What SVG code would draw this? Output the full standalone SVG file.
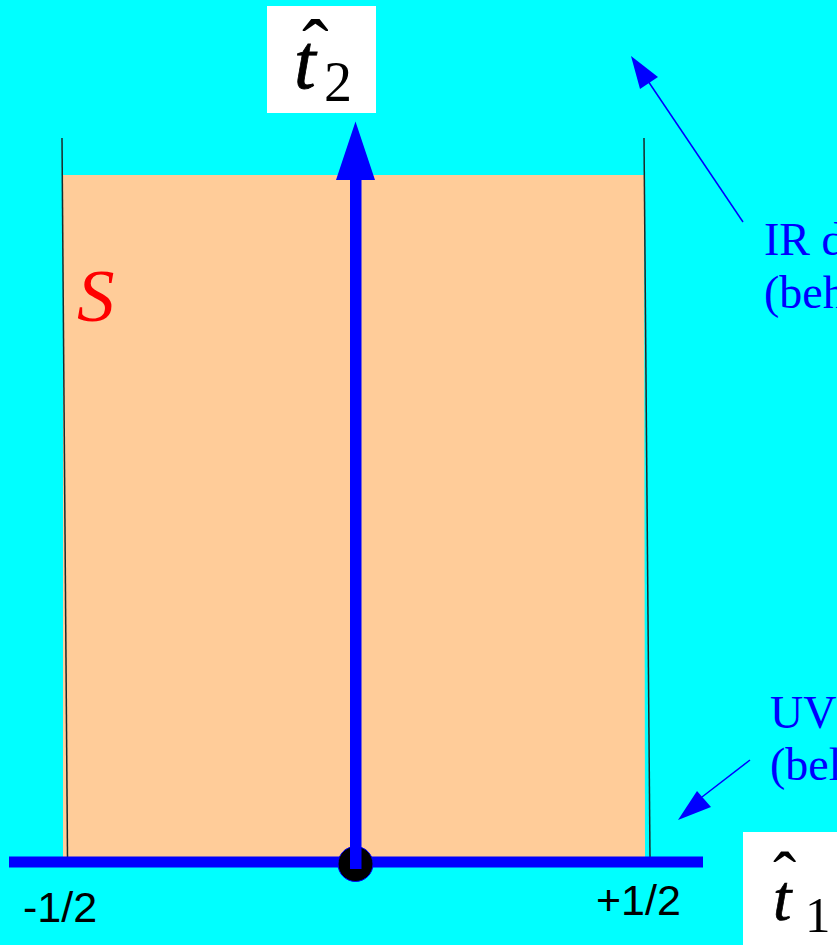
<svg xmlns="http://www.w3.org/2000/svg" width="837" height="945" viewBox="0 0 837 945">
<style>
.axis{fill:#0000ff}
.thin{stroke:#1a2a2a;stroke-width:1.5;fill:none}
.lbl{font-family:"Liberation Serif",serif;fill:#0000ff;font-size:46px}
.num{font-family:"Liberation Sans",Arial,sans-serif;fill:#000;font-size:43px}
.math{font-family:"Liberation Serif",serif;fill:#000}
.ptr{stroke:#0000ff;stroke-width:1.5;fill:none}
</style>
<rect width="837" height="945" fill="#00ffff"/>
<g id="region-S">
<polygon points="63,175 644,175 645,857 63,857" fill="#ffcc99"/>
<line class="thin" x1="62" y1="138" x2="67.5" y2="857"/>
<line class="thin" x1="644" y1="138" x2="650" y2="857"/>
<text x="77" y="321" font-family="Liberation Serif,serif" font-style="italic" font-size="75" fill="#ff0000">S</text>
</g>
<g id="connectors">
<rect class="axis" x="9" y="856.5" width="694" height="11"/>
<circle cx="355.5" cy="864" r="17.5" fill="#000" stroke="#0000ff" stroke-width="1"/>
<rect class="axis" x="350" y="178" width="11.5" height="691"/>
<polygon class="axis" points="355.5,121.5 375,180 336,180"/>
<line class="ptr" x1="743" y1="222" x2="648" y2="81"/>
<polygon class="axis" points="631,56 640,89 658,77"/>
<line class="ptr" x1="750" y1="760" x2="702" y2="797"/>
<polygon class="axis" points="678,820 697,791 711,807"/>
</g>
<g id="label-t2">
<rect x="267" y="6" width="109" height="107" fill="#fff"/>
<text class="math" x="294" y="88" font-style="italic" font-size="78" stroke="#000" stroke-width="0.8">t</text>
<text class="math" x="302" y="75" font-size="80">ˆ</text>
<text class="math" x="324" y="101" font-size="56">2</text>
</g>
<g id="label-t1">
<rect x="743" y="832" width="94" height="113" fill="#fff"/>
<text class="math" x="773" y="920" font-style="italic" font-size="66" stroke="#000" stroke-width="0.7">t</text>
<text class="math" x="773" y="900" font-size="70">ˆ</text>
<text class="math" x="805" y="932" font-size="51">1</text>
</g>
<g id="label-IR">
<text class="lbl" x="764" y="255">IR d</text>
<text class="lbl" x="764" y="308">(beh</text>
</g>
<g id="label-UV">
<text class="lbl" x="770" y="728">UV</text>
<text class="lbl" x="770" y="780">(bel</text>
</g>
<g id="ticks">
<text class="num" x="23" y="922">-1/2</text>
<text class="num" x="596" y="915">+1/2</text>
</g>
</svg>
